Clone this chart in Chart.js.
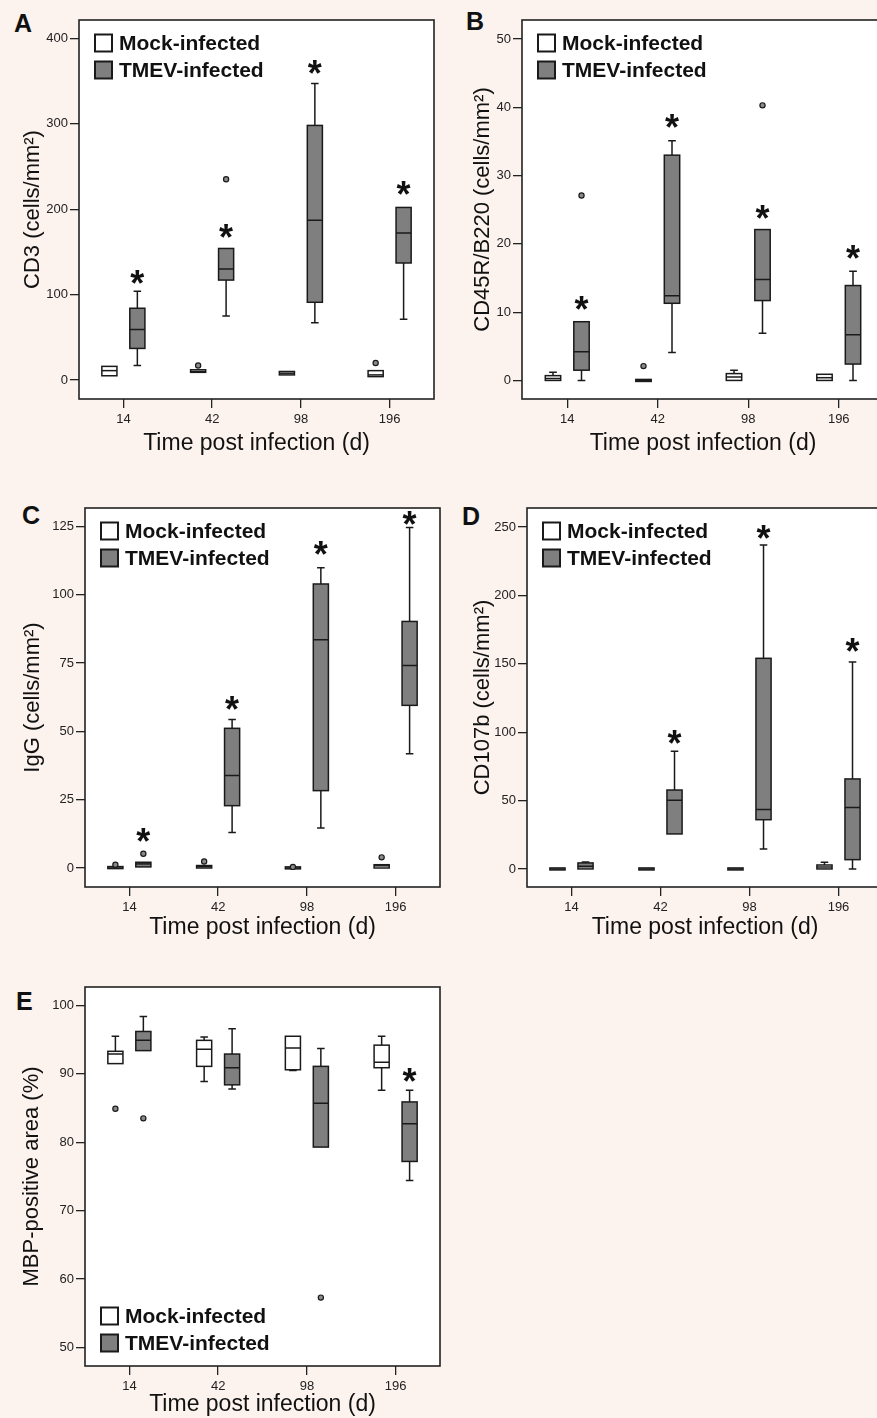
<!DOCTYPE html>
<html>
<head>
<meta charset="utf-8">
<script src="https://cdn.jsdelivr.net/npm/chart.js@4.4.1/dist/chart.umd.min.js"></script>
<style>
  html, body { margin: 0; padding: 0; background: #fcf2ee; overflow: hidden; }
  body { width: 877px; height: 1418px; position: relative; }
  canvas { position: absolute; }
  .tag { position: absolute; font: bold 25px "Liberation Sans", Arial, sans-serif; line-height: 25px; color: #111; }
</style>
</head>
<body>
<div class="tag" style="left:14px;top:11px">A</div>
<div class="tag" style="left:466px;top:9px">B</div>
<div class="tag" style="left:22px;top:503px">C</div>
<div class="tag" style="left:462px;top:504px">D</div>
<div class="tag" style="left:16px;top:989px">E</div>

<canvas id="chartA" width="440" height="457" style="left:0;top:0"></canvas>
<canvas id="chartB" width="447" height="457" style="left:440px;top:0"></canvas>
<canvas id="chartC" width="441" height="471" style="left:0;top:470px"></canvas>
<canvas id="chartD" width="447" height="471" style="left:440px;top:470px"></canvas>
<canvas id="chartE" width="441" height="468" style="left:0;top:950px"></canvas>

<script>
const days = ['14', '42', '98', '196']

// each entry: [lower whisker, Q1, median, Q3, upper whisker]
// A - CD3
const cd3Mock = [[5, 5, 11, 16, 16], [9, 9, 10, 12, 12], [6, 6, 8, 10, 10], [4, 4, 6, 11, 11]]
const cd3MockOut = [[], [17], [], [20]]
const cd3Tmev = [[17, 37, 59, 84, 104], [75, 117, 130, 154, 154], [67, 91, 187, 298, 347], [71, 137, 172, 202, 202]]
const cd3TmevOut = [[], [235], [], []]
const cd3Stars = [123, 177, 369, 227]
const cd3Ticks = [0, 100, 200, 300, 400]

// B - CD45R/B220
const b220Mock = [[0, 0, 0.3, 0.7, 1.2], [0, 0, 0, 0, 0], [0, 0, 0.5, 1.0, 1.5], [0, 0, 0.4, 0.9, 0.9]]
const b220MockOut = [[], [2.1], [], []]
const b220Tmev = [[0, 1.5, 4.2, 8.6, 8.6], [4.1, 11.3, 12.4, 33, 35.1], [6.9, 11.7, 14.8, 22.1, 22.1], [0, 2.4, 6.7, 13.9, 16]]
const b220TmevOut = [[27.1], [], [40.3], []]
const b220Stars = [11.6, 38.3, 25, 19.1]
const b220Ticks = [0, 10, 20, 30, 40, 50]

// C - IgG
const iggMock = [[0, 0, 0, 0.3, 0.3], [0, 0, 0.5, 0.9, 0.9], [0, 0, 0, 0.1, 0.1], [0, 0, 0.8, 1.2, 1.2]]
const iggMockOut = [[1.2], [2.4], [0.4], [3.9]]
const iggTmev = [[0.4, 0.4, 1.5, 2.1, 2.1], [13, 22.8, 33.8, 51.1, 54.3], [14.6, 28.3, 83.5, 103.9, 109.8], [41.8, 59.5, 74.1, 90.2, 124.6]]
const iggTmevOut = [[5.2], [], [], []]
const iggStars = [12.8, 61, 117.7, 128.7]
const iggTicks = [0, 25, 50, 75, 100, 125]

// D - CD107b
const cd107Mock = [[0, 0, 0, 0, 0], [0, 0, 0, 0, 0], [0, 0, 0, 0, 0], [0, 0, 1.5, 2.9, 4.9]]
const cd107MockOut = [[], [], [], []]
const cd107Tmev = [[0, 0, 2, 4.4, 5], [25.6, 25.6, 50.2, 57.7, 86], [14.6, 36, 43.4, 154, 236.8], [0, 6.8, 45, 65.8, 151.3]]
const cd107TmevOut = [[], [], [], []]
const cd107Stars = [null, 98, 247.6, 165]
const cd107Ticks = [0, 50, 100, 150, 200, 250]

// E - MBP
const mbpMock = [[91.5, 91.5, 92.9, 93.3, 95.5], [88.9, 91.1, 93.6, 94.9, 95.4], [90.5, 90.6, 93.8, 95.5, 95.5], [87.6, 90.9, 91.7, 94.2, 95.5]]
const mbpMockOut = [[84.9], [], [], []]
const mbpTmev = [[93.4, 93.4, 94.9, 96.2, 98.4], [87.8, 88.4, 90.9, 92.9, 96.6], [79.3, 79.3, 85.7, 91.1, 93.7], [74.4, 77.2, 82.7, 85.9, 87.6]]
const mbpTmevOut = [[83.5], [], [57.3], []]
const mbpStars = [null, null, null, 90.1]
const mbpTicks = [50, 60, 70, 80, 90, 100]

const FONT = '"Liberation Sans", Arial, Helvetica, sans-serif'
const INK = '#1a1a1a'

// draws white plot area, whiskers, medians, outliers, stars, legend and frame
const boxPlot = {
  id: 'boxPlot',
  beforeDraw(chart) {
    const { ctx, chartArea: a } = chart
    ctx.save()
    ctx.fillStyle = '#ffffff'
    ctx.fillRect(a.left, a.top, a.right - a.left, a.bottom - a.top)
    ctx.restore()
  },
  afterDatasetsDraw(chart) {
    const { ctx, scales: { y } } = chart
    ctx.save()
    ctx.strokeStyle = INK
    ctx.lineWidth = 1.5
    chart.data.datasets.forEach((ds, di) => {
      const meta = chart.getDatasetMeta(di)
      meta.data.forEach((bar, i) => {
        const [lo, q1, med, q3, hi] = ds.stats[i]
        const x = bar.x
        const half = bar.width / 2
        const cap = bar.width / 4
        let top = y.getPixelForValue(q3)
        let bot = y.getPixelForValue(q1)
        if (bot - top < 2) { const m = (top + bot) / 2; top = m - 1; bot = m + 1 }

        ctx.beginPath()
        if (hi > q3) {
          const py = y.getPixelForValue(hi)
          ctx.moveTo(x, top); ctx.lineTo(x, py)
          ctx.moveTo(x - cap, py); ctx.lineTo(x + cap, py)
        }
        if (lo < q1) {
          const py = y.getPixelForValue(lo)
          ctx.moveTo(x, bot); ctx.lineTo(x, py)
          ctx.moveTo(x - cap, py); ctx.lineTo(x + cap, py)
        }
        const pm = y.getPixelForValue(med)
        ctx.moveTo(x - half, pm); ctx.lineTo(x + half, pm)
        ctx.stroke()
        ctx.strokeRect(x - half, top, bar.width, bot - top)

        ds.outliers[i].forEach(v => {
          ctx.beginPath()
          ctx.arc(x, y.getPixelForValue(v), 2.6, 0, Math.PI * 2)
          ctx.fillStyle = '#8a8a8a'
          ctx.fill()
          ctx.lineWidth = 1.2
          ctx.stroke()
          ctx.lineWidth = 1.5
        })

        if (ds.stars && ds.stars[i] != null) {
          ctx.fillStyle = '#111'
          ctx.font = 'bold 36px ' + FONT
          ctx.textAlign = 'center'
          ctx.textBaseline = 'alphabetic'
          ctx.fillText('*', x, y.getPixelForValue(ds.stars[i]) + 21)
        }
      })
    })
    ctx.restore()
  },
  afterDraw(chart, args, opts) {
    const { ctx, chartArea: a } = chart
    ctx.save()
    // legend
    const rows = opts.legendAt === 'bottom' ? [a.bottom - 50, a.bottom - 23] : [a.top + 23, a.top + 50]
    ctx.font = 'bold 21px ' + FONT
    ctx.textBaseline = 'middle'
    ctx.textAlign = 'left'
    chart.data.datasets.forEach((ds, di) => {
      const cy = rows[di]
      ctx.fillStyle = ds.backgroundColor
      ctx.fillRect(a.left + 16, cy - 8.5, 17, 17)
      ctx.lineWidth = 2
      ctx.strokeStyle = INK
      ctx.strokeRect(a.left + 16, cy - 8.5, 17, 17)
      ctx.fillStyle = '#111'
      ctx.fillText(ds.label, a.left + 40, cy + 1)
    })
    // frame
    ctx.lineWidth = 1.6
    ctx.strokeStyle = '#222'
    ctx.strokeRect(a.left, a.top, a.right - a.left, a.bottom - a.top)
    ctx.restore()
  }
}

function panel(id, p) {
  return new Chart(document.getElementById(id), {
    type: 'bar',
    data: {
      labels: days,
      datasets: [
        {
          label: 'Mock-infected',
          data: p.mock.map(s => [s[1], s[3]]),
          stats: p.mock,
          outliers: p.mockOut,
          backgroundColor: '#ffffff',
          borderWidth: 0
        },
        {
          label: 'TMEV-infected',
          data: p.tmev.map(s => [s[1], s[3]]),
          stats: p.tmev,
          outliers: p.tmevOut,
          stars: p.stars,
          backgroundColor: '#7f7f7f',
          borderWidth: 0
        }
      ]
    },
    options: {
      responsive: false,
      animation: false,
      devicePixelRatio: 1,
      layout: { padding: { top: p.padTop, right: p.padRight, left: 0, bottom: 0 } },
      datasets: { bar: { categoryPercentage: 0.63, barPercentage: 0.54 } },
      plugins: {
        legend: { display: false },
        tooltip: { enabled: false },
        boxPlot: { legendAt: p.legendAt || 'top' }
      },
      scales: {
        x: {
          offset: true,
          grid: { offset: false, drawOnChartArea: false, tickLength: 9, color: '#222', lineWidth: 1.3 },
          border: { display: false },
          ticks: { padding: 4, color: '#222', font: { size: 13, family: FONT } },
          title: {
            display: true,
            text: 'Time post infection (d)',
            color: '#111',
            font: { size: 23, family: FONT, lineHeight: 1 },
            padding: { top: 0, bottom: 2 }
          },
          afterFit: s => { s.height = p.xHeight }
        },
        y: {
          min: p.min,
          max: p.max,
          afterBuildTicks: s => { s.ticks = p.ticks.map(v => ({ value: v })) },
          grid: { drawOnChartArea: false, tickLength: 9, color: '#222', lineWidth: 1.3 },
          border: { display: false },
          ticks: { padding: 2, color: '#222', font: { size: 13, family: FONT } },
          title: {
            display: true,
            text: p.yTitle,
            color: '#111',
            font: { size: 22, family: FONT, lineHeight: 1 },
            padding: { top: p.yTitlePad, bottom: 0 }
          },
          afterFit: s => { s.width = p.yWidth }
        }
      }
    },
    plugins: [boxPlot]
  })
}

panel('chartA', {
  mock: cd3Mock, mockOut: cd3MockOut, tmev: cd3Tmev, tmevOut: cd3TmevOut, stars: cd3Stars, ticks: cd3Ticks,
  min: -22.2, max: 421.4, yTitle: 'CD3 (cells/mm²)',
  padTop: 20, padRight: 6, yWidth: 79, xHeight: 58, yTitlePad: 22
})
panel('chartB', {
  mock: b220Mock, mockOut: b220MockOut, tmev: b220Tmev, tmevOut: b220TmevOut, stars: b220Stars, ticks: b220Ticks,
  min: -2.72, max: 52.8, yTitle: 'CD45R/B220 (cells/mm²)',
  padTop: 20, padRight: 3, yWidth: 82, xHeight: 58, yTitlePad: 32
})
panel('chartC', {
  mock: iggMock, mockOut: iggMockOut, tmev: iggTmev, tmevOut: iggTmevOut, stars: iggStars, ticks: iggTicks,
  min: -6.95, max: 131.7, yTitle: 'IgG (cells/mm²)',
  padTop: 38, padRight: 1, yWidth: 85, xHeight: 54, yTitlePad: 22
})
panel('chartD', {
  mock: cd107Mock, mockOut: cd107MockOut, tmev: cd107Tmev, tmevOut: cd107TmevOut, stars: cd107Stars, ticks: cd107Ticks,
  min: -13.2, max: 263.9, yTitle: 'CD107b (cells/mm²)',
  padTop: 38, padRight: 4, yWidth: 87, xHeight: 54, yTitlePad: 32
})
panel('chartE', {
  mock: mbpMock, mockOut: mbpMockOut, tmev: mbpTmev, tmevOut: mbpTmevOut, stars: mbpStars, ticks: mbpTicks,
  min: 47.3, max: 102.7, yTitle: 'MBP-positive area (%)', legendAt: 'bottom',
  padTop: 37, padRight: 1, yWidth: 85, xHeight: 52, yTitlePad: 21
})
</script>
</body>
</html>
